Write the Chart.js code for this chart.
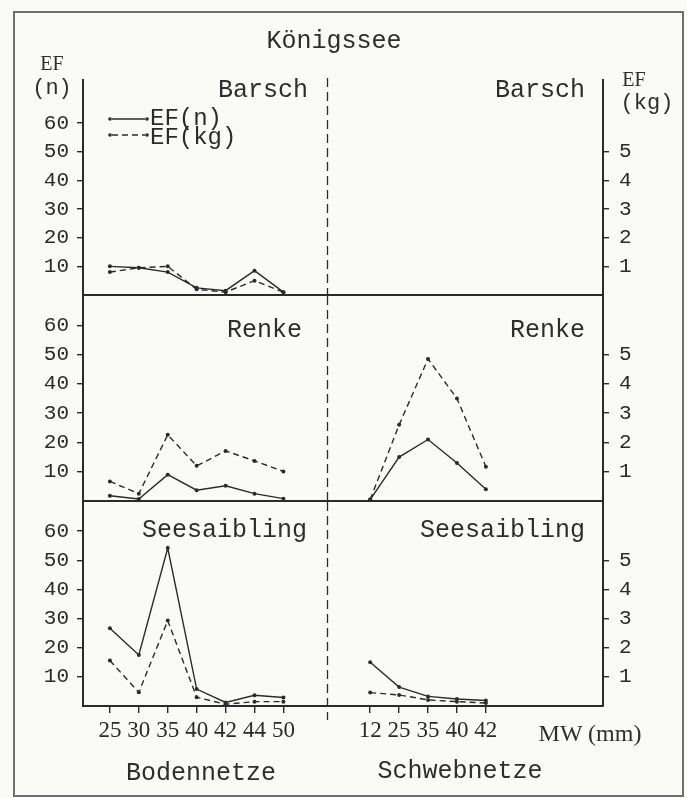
<!DOCTYPE html>
<html>
<head>
<meta charset="utf-8">
<script src="https://cdn.jsdelivr.net/npm/chart.js@4.4.1/dist/chart.umd.min.js"></script>
<style>
  html, body { margin: 0; padding: 0; background: #fafaf7; }
  #page { position: relative; width: 687px; height: 798px; overflow: hidden; background: #fafaf7; }
  #frame { position: absolute; left: 13px; top: 11px; width: 671px; height: 786px; border: 2px solid #707070; box-sizing: border-box; }
  canvas { position: absolute; left: 0; }
  .t { position: absolute; font-family: 'Liberation Mono', monospace; font-size: 25px; color: #2e2e2e; line-height: 1; white-space: nowrap; }
  .c { transform: translate(-50%, -50%); }
  .r { transform: translateY(-50%); }
</style>
</head>
<body>
<div id="page">
  <div id="frame"></div>
  <canvas id="row-barsch" width="687" height="297" style="top:0px"></canvas>
  <canvas id="row-renke" width="687" height="213" style="top:290px"></canvas>
  <canvas id="row-saibling" width="687" height="303" style="top:495px"></canvas>

  <div class="t c" style="left:334px; top:41px;">Königssee</div>
  <div class="t c" style="left:52px; top:63px; font-family:'Liberation Serif', serif; font-size:20px;">EF</div>
  <div class="t c" style="left:52px; top:89px; font-size:22px;">(n)</div>
  <div class="t c" style="left:634px; top:79px; font-family:'Liberation Serif', serif; font-size:20px;">EF</div>
  <div class="t c" style="left:647px; top:104px; font-size:22px;">(kg)</div>

  <div class="t r" style="right:379px; top:90px;">Barsch</div>
  <div class="t r" style="right:102px; top:90px;">Barsch</div>
  <div class="t r" style="right:385px; top:330px;">Renke</div>
  <div class="t r" style="right:102px; top:330px;">Renke</div>
  <div class="t r" style="right:380px; top:530px;">Seesaibling</div>
  <div class="t r" style="right:102px; top:530px;">Seesaibling</div>

  <div class="t c" style="left:590px; top:733px; font-family:'Liberation Sans Narrow', 'Liberation Serif', serif; font-size:24px;">MW (mm)</div>
  <div class="t c" style="left:201px; top:773px;">Bodennetze</div>
  <div class="t c" style="left:460px; top:771px;">Schwebnetze</div>
</div>

<script>
// mesh widths (MW, mm) of the two net types
const bodenMW = ['25', '30', '35', '40', '42', '44', '50'];
const schwebMW = ['12', '25', '35', '40', '42'];

const leftTicks = [10, 20, 30, 40, 50, 60];   // EF(n)
const rightTicks = [1, 2, 3, 4, 5];           // EF(kg)

// Barsch
const barschBodenN = [10, 9.5, 8, 2.5, 1.5, 8.5, 1];
const barschBodenKg = [0.8, 0.95, 1.0, 0.2, 0.1, 0.5, 0.1];
const barschSchwebN = [];
const barschSchwebKg = [];

// Renke
const renkeBodenN = [1.8, 0.7, 9, 3.7, 5.2, 2.5, 0.8];
const renkeBodenKg = [0.67, 0.25, 2.26, 1.2, 1.71, 1.37, 1.01];
const renkeSchwebN = [0.5, 15, 21, 13, 4];
const renkeSchwebKg = [0.05, 2.6, 4.85, 3.5, 1.17];

// Seesaibling
const saiblingBodenN = [26.7, 17.5, 54.2, 5.8, 1.2, 3.7, 2.9];
const saiblingBodenKg = [1.56, 0.47, 2.93, 0.3, 0.06, 0.15, 0.15];
const saiblingSchwebN = [15, 6.5, 3.3, 2.4, 1.9];
const saiblingSchwebKg = [0.46, 0.38, 0.21, 0.15, 0.1];

const ink = '#2b2b2b';
const mono = "'Liberation Mono', monospace";
const narrow = "'Liberation Sans Narrow', 'Liberation Serif', serif";

// slot positions on the x axis: boden nets, a gap, then schweb nets
const bodenX = bodenMW.map((m, i) => i + 1);
const schwebX = schwebMW.map((m, i) => i + bodenMW.length + 3);
const dividerX = bodenMW.length + 1.5;
const xLabel = {};
bodenX.forEach((x, i) => { xLabel[x] = bodenMW[i]; });
schwebX.forEach((x, i) => { xLabel[x] = schwebMW[i]; });
const allX = bodenX.concat(schwebX);

Chart.defaults.plugins.legend.display = false;
Chart.defaults.plugins.tooltip.enabled = false;

const lineSet = (label, xs, ys, axis, dashed) => ({
    label,
    data: ys.map((y, i) => ({ x: xs[i], y })),
    yAxisID: axis,
    borderColor: ink,
    backgroundColor: ink,
    borderWidth: 1.4,
    borderDash: dashed ? [6, 4] : [],
    pointRadius: 2,
    pointHoverRadius: 2,
    pointBorderWidth: 0,
    tension: 0,
    clip: false
});

const dividerPlugin = {
    id: 'divider',
    afterDatasetsDraw(chart, args, opts) {
        const { ctx, chartArea, scales: { x } } = chart;
        const px = Math.round(x.getPixelForValue(dividerX)) + 0.5;
        ctx.save();
        ctx.strokeStyle = ink;
        ctx.lineWidth = 1.3;
        ctx.setLineDash([9, 5]);
        ctx.beginPath();
        ctx.moveTo(px, chartArea.top - (opts.up || 0));
        ctx.lineTo(px, chartArea.bottom + (opts.down || 0));
        ctx.stroke();
        ctx.restore();
    }
};

// the small two-line key in the Barsch panel
const keyPlugin = {
    id: 'key',
    afterDraw(chart, args, opts) {
        if (!opts.show) return;
        const { ctx } = chart;
        const rows = [[chart.data.datasets[0], 119, 119], [chart.data.datasets[1], 135, 138]];
        ctx.save();
        rows.forEach(([ds, ly, ty]) => {
            ctx.strokeStyle = ink;
            ctx.fillStyle = ink;
            ctx.lineWidth = 1.4;
            ctx.setLineDash(ds.borderDash);
            ctx.beginPath();
            ctx.moveTo(112, ly);
            ctx.lineTo(145, ly);
            ctx.stroke();
            [110, 147].forEach(px => {
                ctx.beginPath();
                ctx.arc(px, ly, 1.8, 0, Math.PI * 2);
                ctx.fill();
            });
            ctx.font = `24px ${mono}`;
            ctx.textBaseline = 'middle';
            ctx.fillText(ds.label, 150, ty);
        });
        ctx.restore();
    }
};

const makeRow = (id, cfg) => {
    const showX = !!cfg.showX;
    return new Chart(document.getElementById(id), {
        type: 'line',
        data: {
            datasets: [
                lineSet('EF(n)', bodenX, cfg.bodenN, 'y', false),
                lineSet('EF(kg)', bodenX, cfg.bodenKg, 'y1', true),
                lineSet('EF(n)', schwebX, cfg.schwebN, 'y', false),
                lineSet('EF(kg)', schwebX, cfg.schwebKg, 'y1', true)
            ]
        },
        options: {
            responsive: false,
            animation: false,
            devicePixelRatio: 1,
            layout: { padding: { top: cfg.padTop, bottom: cfg.padBottom, left: 0, right: 0 } },
            scales: {
                x: {
                    type: 'linear',
                    min: 0.07,
                    max: 18.05,
                    afterBuildTicks: s => { s.ticks = allX.map(v => ({ value: v })); },
                    afterFit: s => { s.height = cfg.xHeight; s.paddingLeft = 0; s.paddingRight = 0; },
                    ticks: {
                        display: showX,
                        autoSkip: false,
                        maxRotation: 0,
                        padding: 4,
                        color: ink,
                        font: { family: narrow, size: 23 },
                        callback: v => xLabel[v] || ''
                    },
                    grid: { display: showX, drawOnChartArea: false, tickLength: 7, color: ink, lineWidth: 1.4 },
                    border: { display: true, color: ink, width: 2 }
                },
                y: {
                    position: 'left',
                    min: 0,
                    max: cfg.yMax,
                    afterBuildTicks: s => { s.ticks = leftTicks.map(v => ({ value: v })); },
                    afterFit: s => { s.width = 83; s.paddingTop = 0; s.paddingBottom = 0; },
                    ticks: { color: ink, font: { family: mono, size: 21 }, padding: 8 },
                    grid: { drawOnChartArea: false, tickLength: 6, color: ink, lineWidth: 1.4 },
                    border: { color: ink, width: 2 }
                },
                y1: {
                    position: 'right',
                    min: 0,
                    max: cfg.yMax / 10,
                    afterBuildTicks: s => { s.ticks = rightTicks.map(v => ({ value: v })); },
                    afterFit: s => { s.width = 84; s.paddingTop = 0; s.paddingBottom = 0; },
                    ticks: { color: ink, font: { family: mono, size: 21 }, padding: 10 },
                    grid: { drawOnChartArea: false, tickLength: 6, color: ink, lineWidth: 1.4 },
                    border: { color: ink, width: 2 }
                }
            },
            plugins: {
                divider: { up: cfg.dividerUp || 0, down: cfg.dividerDown || 0 },
                key: { show: !!cfg.key }
            }
        },
        plugins: [dividerPlugin, keyPlugin]
    });
};

makeRow('row-barsch', {
    bodenN: barschBodenN, bodenKg: barschBodenKg,
    schwebN: barschSchwebN, schwebKg: barschSchwebKg,
    yMax: 75, padTop: 80, padBottom: 1, xHeight: 0,
    dividerUp: 2, key: true
});

makeRow('row-renke', {
    bodenN: renkeBodenN, bodenKg: renkeBodenKg,
    schwebN: renkeSchwebN, schwebKg: renkeSchwebKg,
    yMax: 70, padTop: 6, padBottom: 2, xHeight: 0
});

makeRow('row-saibling', {
    bodenN: saiblingBodenN, bodenKg: saiblingBodenKg,
    schwebN: saiblingSchwebN, schwebKg: saiblingSchwebKg,
    yMax: 70, padTop: 7, padBottom: 0, xHeight: 92,
    showX: true, dividerDown: 14
});
</script>
</body>
</html>
